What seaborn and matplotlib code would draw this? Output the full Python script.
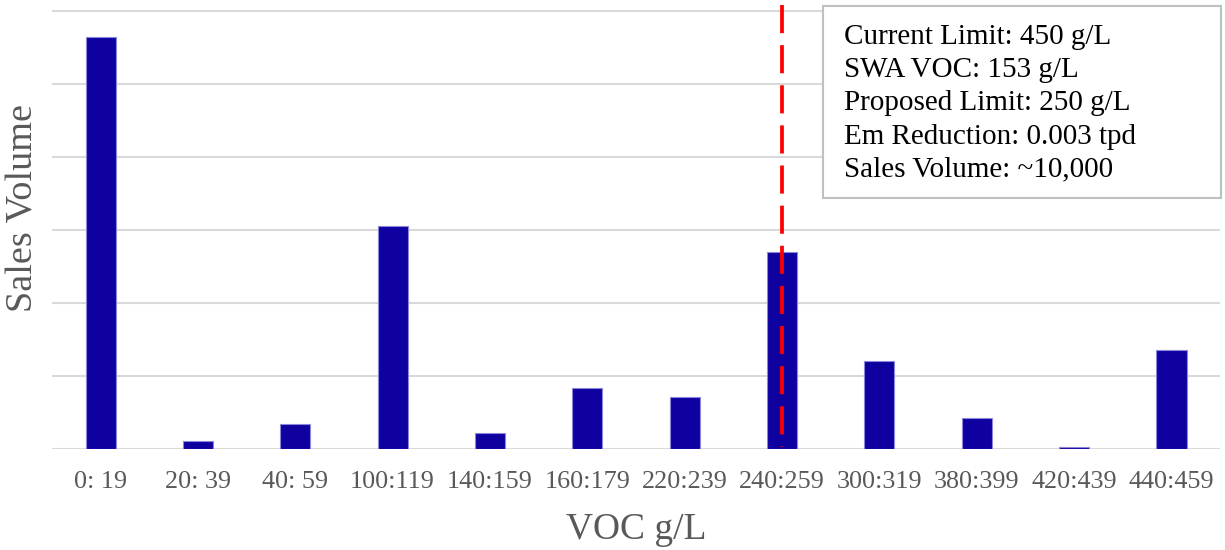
import matplotlib
matplotlib.use("Agg")
import matplotlib.pyplot as plt
import seaborn as sns
import pandas as pd
from matplotlib.patches import Rectangle

# data (units = gridline steps)
voc_bins = ["0: 19", "20: 39", "40: 59", "100:119", "140:159", "160:179",
            "220:239", "240:259", "300:319", "380:399", "420:439", "440:459"]
sales = [5.64, 0.11, 0.34, 3.05, 0.22, 0.84, 0.71, 2.70, 1.21, 0.43, 0.03, 1.36]
limit_bin = "240:259"
info_lines = ["Current Limit: 450 g/L", "SWA VOC: 153 g/L", "Proposed Limit: 250 g/L",
              "Em Reduction: 0.003 tpd", "Sales Volume: ~10,000"]

sns.set_theme(style="white")
plt.rcParams["font.family"] = ["Liberation Serif", "DejaVu Serif"]

df = pd.DataFrame({"bin": voc_bins, "sales": sales})

fig = plt.figure(figsize=(12.25, 5.5), dpi=100)
ax = fig.add_axes([0.0424, 0.1836, 0.9536, 0.8018])

sns.barplot(data=df, x="bin", y="sales", color="#0F00A0", width=0.31,
            edgecolor="#8C88D8", linewidth=0.8, saturation=1, ax=ax, zorder=3)

ax.set_ylim(0, 6.04)
ax.set_yticks(range(0, 7))
ax.set_yticklabels([])
ax.yaxis.grid(True, color="#D9D9D9", linewidth=1.5, zorder=0)
ax.tick_params(axis="y", length=0)
ax.tick_params(axis="x", length=0, labelsize=18.8, labelcolor="#595959", pad=16)
for s in ax.spines.values():
    s.set_visible(False)

# proposed limit marker, dashed from the top down
xpos = voc_bins.index(limit_bin)
ax.axvline(xpos, ymin=1.007, ymax=0.005, color="#FF0000", linewidth=2.7,
           dashes=(7.5, 3.2), zorder=4, clip_on=False)

ax.set_xlabel("VOC g/L", fontsize=27, color="#595959", labelpad=14)
ax.set_ylabel("Sales Volume", fontsize=27.5, color="#595959")
ax.yaxis.set_label_coords(-0.010, 0.546)

# info box
fig.patches.append(Rectangle((823 / 1225, 1 - 198 / 550), 398 / 1225, 192 / 550,
                             transform=fig.transFigure, facecolor="white",
                             edgecolor="#BFBFBF", linewidth=1.5, zorder=5))
fig.text(844 / 1225, 1 - 24 / 550, "\n".join(info_lines), fontsize=21,
         va="top", ha="left", linespacing=1.36, color="black", zorder=6)

fig.savefig("out.png", dpi=100)
